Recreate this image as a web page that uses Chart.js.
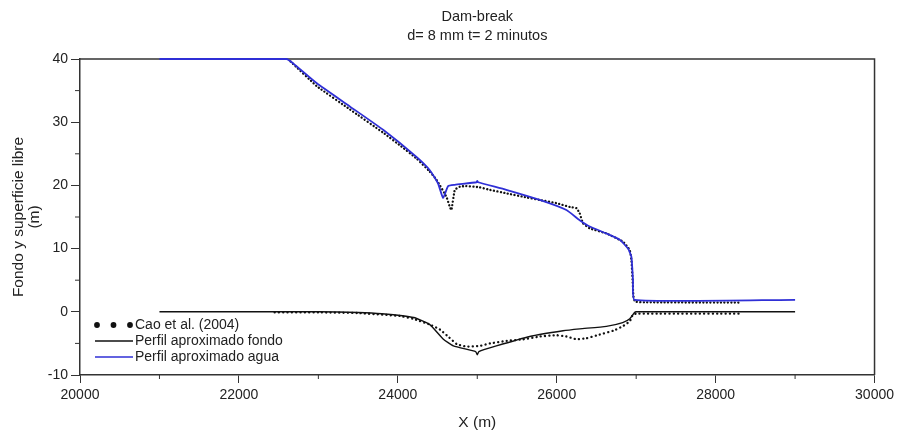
<!DOCTYPE html>
<html>
<head>
<meta charset="utf-8">
<script src="https://cdn.jsdelivr.net/npm/chart.js@4/dist/chart.umd.min.js"></script>
<style>
  html, body { margin: 0; padding: 0; background: #fff; }
  #wrap { width: 898px; height: 434px; }
</style>
</head>
<body>
<div id="wrap"><canvas id="c" width="898" height="434"></canvas></div>
<script>
// ---------------- DATA ----------------
const titleLines = ['Dam-break', 'd= 8 mm t= 2 minutos'];
const xAxisTitle = 'X (m)';
const yAxisTitle = ['Fondo y superficie libre', '(m)'];
const seriesNames = ['Cao et al. (2004)', 'Perfil aproximado fondo', 'Perfil aproximado agua'];

// Perfil aproximado agua (blue line)
const xAgua = [21000, 22600, 22683, 22977, 23396, 23815, 24235, 24403, 24507, 24570, 24633, 24717, 24990, 25000, 25010, 25365, 25786, 26122, 26289, 26415, 26625, 26793, 26897, 26940, 26960, 26980, 29000];
const yAgua = [40, 40, 39.3, 36.2, 32.5, 28.8, 24.5, 22.4, 20.3, 18.0, 19.9, 20.1, 20.5, 20.7, 20.5, 19.3, 17.7, 16.1, 14.5, 13.5, 12.4, 11.4, 10.0, 8.7, 5.0, 1.9, 1.9];

// Perfil aproximado fondo (black line)
const xFondo = [21000, 23000, 23500, 23800, 24200, 24400, 24570, 24700, 24980, 25000, 25020, 25240, 25660, 26080, 26290, 26625, 26830, 26920, 26980, 27000, 29000];
const yFondo = [0, 0, -0.1, -0.3, -0.9, -2.0, -4.3, -5.4, -6.3, -6.8, -6.3, -5.4, -3.9, -3.0, -2.7, -2.3, -1.7, -1.1, -0.1, 0, 0];

// Cao et al. (2004) - free surface (dots)
const xCaoSup = [22650, 22980, 23400, 23820, 24030, 24240, 24400, 24487, 24612, 24654, 24675, 24717, 24780, 24860, 25030, 25157, 25367, 25618, 25786, 25996, 26164, 26248, 26289, 26331, 26415, 26625, 26834, 26918, 26940, 26955, 26965, 26985, 27100, 28320];
const yCaoSup = [39.6, 35.7, 32.0, 28.3, 26.3, 24.2, 22.2, 20.9, 18.2, 16.6, 16.1, 19.3, 19.8, 19.9, 19.7, 19.3, 18.75, 18.1, 17.7, 17.2, 16.6, 16.4, 15.6, 14.0, 13.2, 12.4, 11.1, 9.8, 8.2, 5.0, 2.5, 1.6, 1.5, 1.45];

// Cao et al. (2004) - bed (dots)
const xCaoFondo = [22450, 23000, 23500, 24025, 24190, 24400, 24530, 24650, 24740, 24860, 25030, 25160, 25370, 25580, 25790, 26000, 26120, 26250, 26370, 26540, 26710, 26830, 26920, 26960, 27000, 28320];
const yCaoFondo = [-0.1, -0.1, -0.2, -0.66, -1.1, -2.0, -2.8, -4.1, -5.1, -5.5, -5.4, -5.0, -4.6, -4.35, -3.9, -3.7, -3.9, -4.35, -4.2, -3.6, -3.0, -2.3, -1.5, -0.4, -0.3, -0.3];

const xMin = 20000, xMax = 30000, xStep = 2000, xMinor = 1000;
const yMin = -10, yMax = 40, yStep = 10, yMinor = 5;

// ---------------- HELPERS ----------------
const zip = (xs, ys) => xs.map((x, i) => ({ x: x, y: ys[i] }));
const FONT = "'Liberation Sans', Arial, Helvetica, sans-serif";
const BLUE = '#2f2fd6';
const AXIS = '#333333';

const framePlugin = {
  id: 'frame',
  beforeDatasetsDraw(chart) {
    const { ctx, chartArea: a, scales } = chart;
    const xs = scales.x, ys = scales.y;
    ctx.save();
    ctx.strokeStyle = AXIS;
    ctx.lineWidth = 1.5;
    ctx.beginPath();
    ctx.moveTo(a.left, a.top);
    ctx.lineTo(a.right, a.top);
    ctx.lineTo(a.right, a.bottom);
    ctx.stroke();
    ctx.lineWidth = 1;
    ctx.beginPath();
    for (let v = xMin + xMinor; v < xMax; v += xStep) {
      const px = xs.getPixelForValue(v);
      ctx.moveTo(px, a.bottom);
      ctx.lineTo(px, a.bottom + 4);
    }
    for (let v = yMin + yMinor; v < yMax; v += yStep) {
      const py = ys.getPixelForValue(v);
      ctx.moveTo(a.left, py);
      ctx.lineTo(a.left - 5, py);
    }
    ctx.stroke();
    ctx.restore();
  }
};

const decorPlugin = {
  id: 'decor',
  afterDraw(chart) {
    const { ctx, chartArea: a } = chart;
    ctx.save();
    // title
    ctx.fillStyle = '#222';
    ctx.font = '14.5px ' + FONT;
    ctx.textAlign = 'center';
    ctx.textBaseline = 'middle';
    const cx = (a.left + a.right) / 2;
    ctx.fillText(titleLines[0], cx, 17);
    ctx.fillText(titleLines[1], cx, 36);
    // legend
    ctx.font = '14px ' + FONT;
    ctx.textAlign = 'left';
    const lx = 95, tx = 135;
    const ly = [325, 341, 357];
    ctx.fillStyle = '#111';
    [97, 113.5, 130].forEach(dx => {
      ctx.beginPath();
      ctx.arc(dx, ly[0], 2.9, 0, Math.PI * 2);
      ctx.fill();
    });
    ctx.lineWidth = 1.4;
    ctx.strokeStyle = '#111';
    ctx.beginPath(); ctx.moveTo(lx, ly[1]); ctx.lineTo(133, ly[1]); ctx.stroke();
    ctx.strokeStyle = BLUE;
    ctx.lineWidth = 1.6;
    ctx.beginPath(); ctx.moveTo(lx, ly[2]); ctx.lineTo(133, ly[2]); ctx.stroke();
    ctx.fillStyle = '#222';
    seriesNames.forEach((n, i) => ctx.fillText(n, tx, ly[i] + 0.5));
    ctx.restore();
  }
};

const ctx = document.getElementById('c').getContext('2d');
new Chart(ctx, {
  type: 'line',
  data: {
    datasets: [
      {
        label: seriesNames[2],
        data: zip(xAgua, yAgua),
        borderColor: BLUE,
        borderWidth: 1.8,
        pointRadius: 0,
        tension: 0.15,
        clip: false,
        fill: false
      },
      {
        label: seriesNames[1],
        data: zip(xFondo, yFondo),
        borderColor: '#111',
        borderWidth: 1.4,
        pointRadius: 0,
        tension: 0.15,
        fill: false
      },
      {
        label: seriesNames[0],
        data: zip(xCaoSup, yCaoSup),
        borderColor: '#111',
        borderWidth: 2.3,
        borderDash: [0.1, 3.4],
        borderCapStyle: 'round',
        pointRadius: 0,
        tension: 0.1,
        fill: false
      },
      {
        label: seriesNames[0] + ' fondo',
        data: zip(xCaoFondo, yCaoFondo),
        borderColor: '#111',
        borderWidth: 2.3,
        borderDash: [0.1, 4.2],
        borderCapStyle: 'round',
        pointRadius: 0,
        tension: 0.1,
        fill: false
      }
    ]
  },
  options: {
    responsive: false,
    animation: false,
    devicePixelRatio: 1,
    layout: { padding: { top: 59, right: 23, bottom: 0, left: 0 } },
    plugins: {
      legend: { display: false },
      title: { display: false },
      tooltip: { enabled: false }
    },
    scales: {
      x: {
        type: 'linear',
        min: xMin, max: xMax,
        ticks: {
          stepSize: xStep,
          color: '#222',
          font: { family: FONT, size: 14 },
          padding: 4,
          maxRotation: 0,
          callback: v => String(v)
        },
        grid: { drawOnChartArea: false, drawTicks: true, tickLength: 8, tickColor: AXIS, tickWidth: 1 },
        border: { display: true, color: AXIS, width: 1.5 },
        title: {
          display: true,
          text: xAxisTitle,
          color: '#222',
          font: { family: FONT, size: 15.5 },
          padding: { top: 0, bottom: 2 }
        },
        afterFit: s => { s.height = 59; }
      },
      y: {
        type: 'linear',
        min: yMin, max: yMax,
        ticks: {
          stepSize: yStep,
          color: '#222',
          font: { family: FONT, size: 14 },
          padding: 3
        },
        grid: { drawOnChartArea: false, drawTicks: true, tickLength: 9, tickColor: AXIS, tickWidth: 1 },
        border: { display: true, color: AXIS, width: 1.5 },
        title: {
          display: true,
          text: yAxisTitle,
          color: '#222',
          font: { family: FONT, size: 15.5, lineHeight: 1.03 },
          padding: { top: 11, bottom: 0 }
        },
        afterFit: s => { s.width = 80; }
      }
    }
  },
  plugins: [framePlugin, decorPlugin]
});
</script>
</body>
</html>
